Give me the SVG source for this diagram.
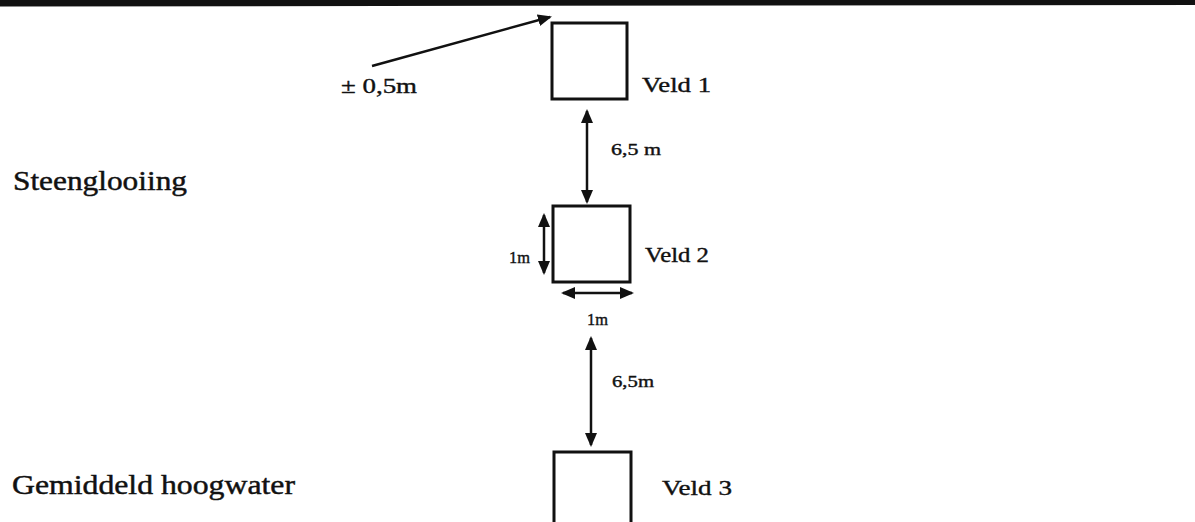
<svg xmlns="http://www.w3.org/2000/svg" width="1195" height="522" viewBox="0 0 1195 522">
  <style>
    .box { fill: none; stroke: #111; stroke-width: 3; }
    .ln { fill: none; stroke: #111; stroke-width: 2.5; }
  </style>
  <defs>
    <marker id="ah" markerUnits="userSpaceOnUse" markerWidth="14" markerHeight="12" refX="12" refY="6" orient="auto-start-reverse" viewBox="0 0 14 12">
      <path d="M0,0 L14,6 L0,12 Z" fill="#111"/>
    </marker>
  </defs>
  <rect width="1195" height="522" fill="#ffffff"/>
  <polygon points="0,0 1195,0 1195,5 0,6.5" fill="#111"/>

  <g id="labels" fill="#111" stroke="#111" stroke-width="0.45">
    <text x="13" y="190" font-family="Liberation Serif" font-size="27" textLength="174" lengthAdjust="spacingAndGlyphs">Steenglooiing</text>
    <text x="12" y="494" font-family="Liberation Serif" font-size="27" textLength="283" lengthAdjust="spacingAndGlyphs">Gemiddeld hoogwater</text>
  </g>

  <g id="veld1">
    <rect class="box" x="552" y="23" width="75" height="76"/>
    <text x="642" y="92" font-family="Liberation Serif" font-size="22" fill="#111" stroke="#111" stroke-width="0.4" textLength="69" lengthAdjust="spacingAndGlyphs">Veld 1</text>
  </g>
  <g id="veld2">
    <rect class="box" x="553" y="206" width="77" height="76"/>
    <text x="645" y="262" font-family="Liberation Serif" font-size="22" fill="#111" stroke="#111" stroke-width="0.4" textLength="64" lengthAdjust="spacingAndGlyphs">Veld 2</text>
  </g>
  <g id="veld3">
    <rect class="box" x="554" y="452" width="77" height="90"/>
    <text x="662" y="495" font-family="Liberation Serif" font-size="22" fill="#111" stroke="#111" stroke-width="0.4" textLength="70" lengthAdjust="spacingAndGlyphs">Veld 3</text>
  </g>

  <g id="connectors">
    <line class="ln" x1="372" y1="66" x2="550" y2="17" marker-end="url(#ah)"/>
    <line class="ln" x1="587" y1="111" x2="587" y2="202" marker-start="url(#ah)" marker-end="url(#ah)"/>
    <line class="ln" x1="544" y1="215" x2="544" y2="273" marker-start="url(#ah)" marker-end="url(#ah)"/>
    <line class="ln" x1="563" y1="293" x2="632" y2="293" marker-start="url(#ah)" marker-end="url(#ah)"/>
    <line class="ln" x1="591" y1="338" x2="591" y2="445" marker-start="url(#ah)" marker-end="url(#ah)"/>
  </g>

  <g id="dimension-labels" fill="#111" stroke="#111" stroke-width="0.4">
    <text x="341" y="93" font-family="Liberation Serif" font-size="22" textLength="76" lengthAdjust="spacingAndGlyphs">± 0,5m</text>
    <text x="611" y="155" font-family="Liberation Serif" font-size="17" textLength="50" lengthAdjust="spacingAndGlyphs">6,5 m</text>
    <text x="509" y="263" font-family="Liberation Serif" font-size="17" textLength="21" lengthAdjust="spacingAndGlyphs">1m</text>
    <text x="587" y="325" font-family="Liberation Serif" font-size="17" textLength="21" lengthAdjust="spacingAndGlyphs">1m</text>
    <text x="612" y="387" font-family="Liberation Serif" font-size="17" textLength="42" lengthAdjust="spacingAndGlyphs">6,5m</text>
  </g>
</svg>
